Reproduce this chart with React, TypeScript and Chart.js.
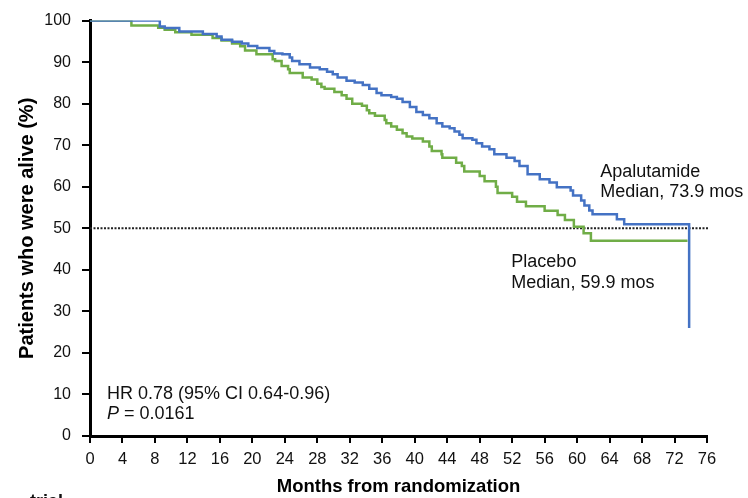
import { useEffect, useRef } from "react";
import { Chart, registerables } from "chart.js";

Chart.register(...registerables);

// Kaplan–Meier step points: month at which survival drops, and the new survival (%)
const apalutamideMonths = [
  0, 8.6, 9.2, 11.0, 13.9, 15.6, 16.2, 17.5, 18.7, 19.5, 20.6, 22.1, 22.7, 23.7, 24.6, 24.9,
  25.8, 27.1, 28.3, 29.2, 29.9, 30.5, 31.6, 32.6, 33.6, 34.4, 35.3, 35.9, 37.1, 37.8, 38.5,
  39.4, 40.2, 41.0, 41.8, 42.7, 43.4, 44.3, 44.9, 45.5, 45.9, 47.1, 47.6, 48.3, 49.2, 49.8,
  51.3, 52.3, 52.9, 53.9, 55.4, 56.6, 57.5, 59.2, 59.5, 60.5, 60.9, 61.5, 61.9, 64.9, 65.8,
  73.8,
];
const apalutamideSurvival = [
  100, 98.6, 98.2, 97.4, 96.8, 96.2, 95.4, 94.9, 94.5, 93.9, 93.4, 92.7, 92.1, 91.9, 91.1, 90.3,
  89.5, 88.7, 88.3, 87.7, 87.1, 86.3, 85.5, 85.1, 84.5, 83.6, 82.6, 82.0, 81.6, 81.2, 80.4,
  79.2, 78.0, 77.3, 76.5, 75.3, 74.5, 74.1, 73.3, 72.5, 71.7, 71.3, 70.5, 69.7, 69.0, 67.8,
  67.0, 66.2, 65.0, 63.0, 61.8, 61.0, 59.9, 59.1, 57.9, 56.7, 55.5, 54.3, 53.4, 52.2, 51.0,
  26.0,
];

const placeboMonths = [
  0, 5.1, 8.4, 9.2, 10.5, 12.5, 15.1, 16.2, 17.5, 18.5, 19.1, 20.5, 22.5, 22.8, 23.6, 24.4,
  24.6, 26.2, 27.3, 28.0, 28.5, 28.9, 30.1, 31.0, 31.6, 32.3, 33.5, 34.1, 34.4, 35.1, 36.3,
  36.5, 37.1, 37.8, 38.5, 39.0, 39.7, 41.0, 41.8, 42.1, 43.3, 43.4, 45.1, 45.8, 46.1, 48.0,
  48.6, 50.0, 50.2, 52.0, 52.6, 53.7, 56.0, 57.6, 58.5, 59.6, 60.8, 61.7, 73.6,
];
const placeboSurvival = [
  100, 98.8, 98.3, 97.8, 97.2, 96.6, 95.8, 95.2, 94.5, 93.8, 92.8, 91.9, 90.7, 90.3, 89.1, 88.3,
  87.4, 86.3, 85.8, 84.8, 84.0, 83.6, 82.8, 82.0, 81.2, 80.0, 79.5, 78.4, 77.7, 77.1, 76.1,
  75.3, 74.5, 73.7, 72.9, 72.1, 71.6, 70.9, 69.7, 68.6, 67.8, 67.0, 65.8, 65.0, 63.7, 62.6,
  61.3, 60.0, 58.5, 57.6, 56.4, 55.3, 54.2, 53.2, 52.0, 50.4, 48.8, 47.0, 47.0,
];

// Median reference line
const medianLevel = 50;
const medianLineMonths = [0, 76.3];

const xTickValues = [0, 4, 8, 12, 16, 20, 24, 28, 32, 36, 40, 44, 48, 52, 56, 60, 64, 68, 72, 76];
const yTickValues = [0, 10, 20, 30, 40, 50, 60, 70, 80, 90, 100];

const FONT = '"Liberation Sans", Arial, Helvetica, sans-serif';
const BLUE = "#4472C4";
const GREEN = "#70AD47";

const toPoints = (xs: number[], ys: number[]) => xs.map((x, i) => ({ x, y: ys[i] }));

// Free text drawn on top of the plot: group labels, hazard ratio, caption fragment
const textPlugin = {
  id: "kmText",
  afterDatasetsDraw(chart: any) {
    const { ctx } = chart;
    const xs = chart.scales.x;
    const ys = chart.scales.y;
    ctx.save();
    ctx.fillStyle = "#111";
    ctx.textBaseline = "alphabetic";
    ctx.textAlign = "left";
    ctx.font = `18px ${FONT}`;

    const ax = xs.getPixelForValue(62.85);
    const ay = ys.getPixelForValue(62.3);
    ctx.fillText("Apalutamide", ax, ay);
    ctx.fillText("Median, 73.9 mos", ax, ay + 20);

    const px = xs.getPixelForValue(51.9);
    const py = ys.getPixelForValue(40.8);
    ctx.fillText("Placebo", px, py);
    ctx.fillText("Median, 59.9 mos", px, py + 21);

    const hx = xs.getPixelForValue(2.1);
    const hy = ys.getPixelForValue(9.0);
    ctx.fillText("HR 0.78 (95% CI 0.64-0.96)", hx, hy);
    ctx.font = `italic 18px ${FONT}`;
    ctx.fillText("P", hx, hy + 20);
    const pw = ctx.measureText("P").width;
    ctx.font = `18px ${FONT}`;
    ctx.fillText(" = 0.0161", hx + pw, hy + 20);

    ctx.font = `bold 18px ${FONT}`;
    ctx.fillText("trial", 30, 507);
    ctx.restore();
  },
};

export default function App() {
  const canvasRef = useRef<HTMLCanvasElement | null>(null);

  useEffect(() => {
    const canvas = canvasRef.current;
    if (!canvas) return;
    const chart = new Chart(canvas, {
      type: "line",
      data: {
        datasets: [
          {
            label: "Apalutamide",
            data: toPoints(apalutamideMonths, apalutamideSurvival),
            borderColor: BLUE,
            borderWidth: 2.5,
            stepped: "before",
            pointRadius: 0,
            fill: false,
            order: 0,
          },
          {
            label: "Placebo",
            data: toPoints(placeboMonths, placeboSurvival),
            borderColor: GREEN,
            borderWidth: 2.5,
            stepped: "before",
            pointRadius: 0,
            fill: false,
            order: 1,
          },
          {
            label: "Median",
            data: medianLineMonths.map((x) => ({ x, y: medianLevel })),
            borderColor: "#222",
            borderWidth: 2,
            borderDash: [2, 1.5],
            pointRadius: 0,
            fill: false,
            clip: false,
            order: 2,
          },
        ],
      },
      options: {
        responsive: false,
        animation: false,
        devicePixelRatio: 1,
        layout: { padding: { left: 0, right: 41, top: 14, bottom: 0 } },
        plugins: { legend: { display: false }, tooltip: { enabled: false } },
        scales: {
          x: {
            type: "linear",
            min: 0,
            max: 76,
            afterBuildTicks: (s: any) => {
              s.ticks = xTickValues.map((value) => ({ value }));
            },
            afterFit: (s: any) => {
              s.height = 62;
            },
            grid: {
              display: true,
              drawOnChartArea: false,
              drawTicks: true,
              tickLength: 7,
              color: "#000",
              lineWidth: 2,
            },
            border: { display: true, color: "#000", width: 3 },
            ticks: {
              color: "#111",
              font: { size: 16.5, family: FONT },
              padding: 7,
              maxRotation: 0,
              autoSkip: false,
            },
            title: {
              display: true,
              text: "Months from randomization",
              color: "#000",
              font: { size: 18.5, weight: "bold", family: FONT, lineHeight: 1.2 },
              padding: { top: 0, bottom: 0 },
            },
          },
          y: {
            type: "linear",
            min: 0,
            max: 100,
            afterBuildTicks: (s: any) => {
              s.ticks = yTickValues.map((value) => ({ value }));
            },
            afterFit: (s: any) => {
              s.width = 90;
            },
            grid: {
              display: true,
              drawOnChartArea: false,
              drawTicks: true,
              tickLength: 8,
              color: "#000",
              lineWidth: 2,
            },
            border: { display: true, color: "#000", width: 3 },
            ticks: {
              color: "#111",
              font: { size: 16, family: FONT },
              padding: 11,
              autoSkip: false,
            },
            title: {
              display: true,
              text: "Patients who were alive (%)",
              color: "#000",
              font: { size: 20, weight: "bold", family: FONT, lineHeight: 1.2 },
              padding: { top: 15.5, bottom: 0 },
            },
          },
        },
      },
      plugins: [textPlugin],
    } as any);
    return () => chart.destroy();
  }, []);

  return (
    <div
      style={{
        position: "absolute",
        left: 0,
        top: 0,
        width: 748,
        height: 498,
        overflow: "hidden",
        background: "#fff",
      }}
    >
      <canvas ref={canvasRef} width={748} height={498} style={{ display: "block" }} />
    </div>
  );
}
